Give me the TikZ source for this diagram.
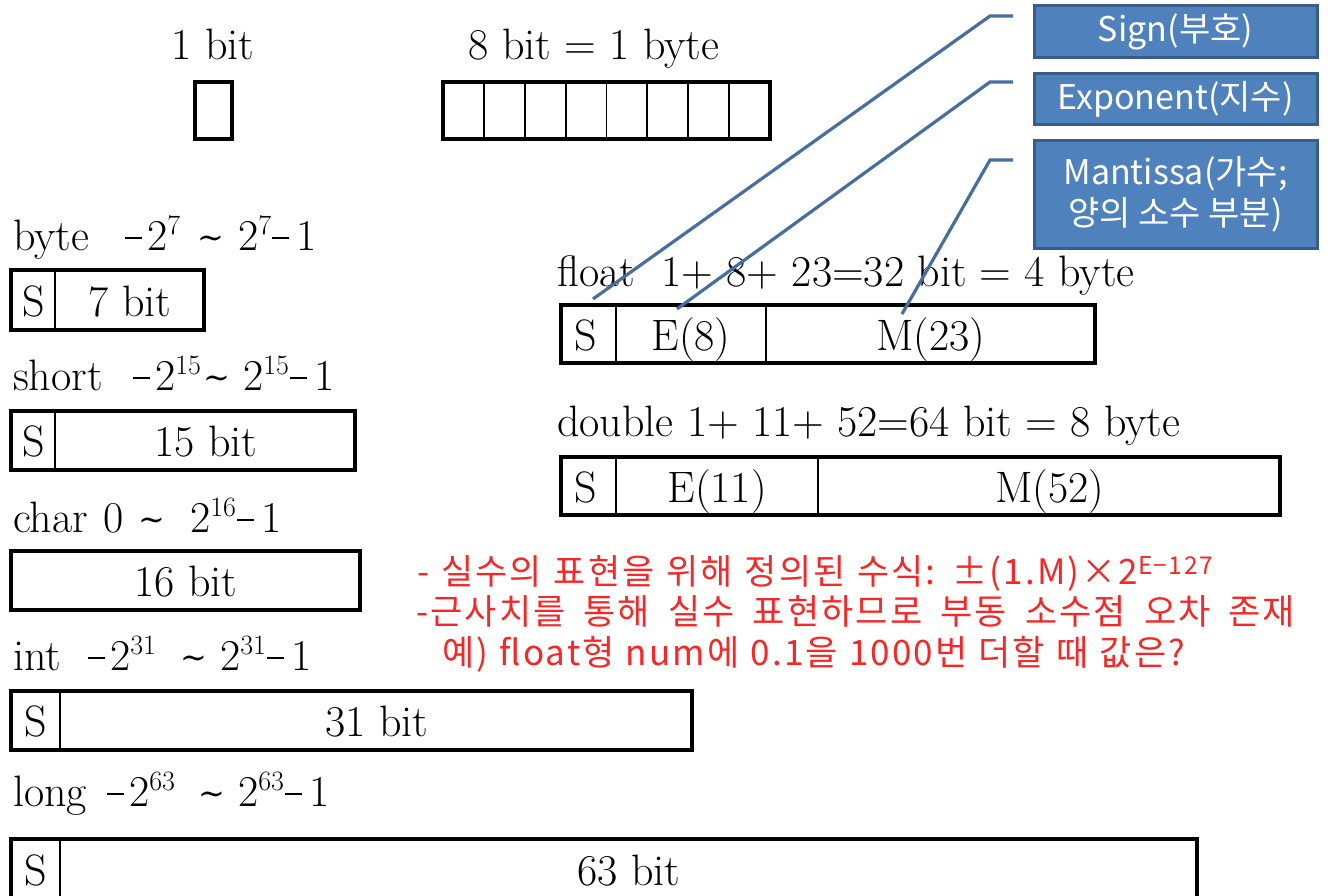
\documentclass[tikz,border=0pt]{standalone}
\usepackage{fontspec}
\newfontfamily\krfont{Noto Sans CJK KR}
\newfontfamily\krred{Noto Sans CJK KR}[LetterSpace=6]
\newfontfamily\dvserif{DejaVu Serif}
\definecolor{boxfill}{RGB}{79,129,189}
\definecolor{boxedge}{RGB}{56,93,138}
\definecolor{callcol}{RGB}{70,110,160}
\definecolor{redtxt}{RGB}{245,40,40}
\newcommand\mainsz{\fontsize{44}{50}\selectfont}
\newcommand\rngsup[1]{\raisebox{0.36em}{\fontsize{28}{30}\selectfont #1}}
\newcommand\rtil{{\dvserif\fontsize{32}{32}\selectfont\raisebox{0.05em}{∼}}}
\newcommand\rmin{\rule[11pt]{17pt}{1.7pt}}
\newcommand\rtail[1]{2\rngsup{#1}\kern1pt\rmin\kern7pt 1}
\newcommand\rlab[5]{\makebox[#1pt][l]{#2}\makebox[#3pt][l]{\rmin\kern5pt 2\rngsup{#4}}\makebox[#5pt][l]{\rtil}\rtail{#4}}
\begin{document}
\begin{tikzpicture}[x=1pt,y=-1pt,
  outerbox/.style={draw=black, line width=4pt, inner sep=0pt, outer sep=0pt},
  divline/.style={draw=black, line width=1.8pt},
  lbl/.style={anchor=base west, inner sep=0pt, font=\mainsz},
  celltxt/.style={anchor=base, inner sep=0pt, font=\mainsz},
  bluebox/.style={draw=boxedge, line width=3pt, fill=boxfill, text=white, inner sep=2pt,
     font=\krfont\fontsize{34}{41}\selectfont, align=center, minimum width=283pt},
  callout/.style={draw=callcol, line width=3.2pt},
  redline/.style={anchor=base west, inner sep=0pt, text=redtxt, font=\krred\fontsize{35}{42}\selectfont}]
\useasboundingbox (0,0) rectangle (1330,896);
\clip (0,0) rectangle (1330,896);
\fill[white] (0,0) rectangle (1330,896);

% top: 1 bit and 8 bit
\node[celltxt] (onebitlbl) at (213,60) {1 bit};
\node[outerbox, minimum width=37pt, minimum height=57pt] (onebit) at (213.5,110.5) {};
\node[celltxt] (bytelbl8) at (594,60) {8 bit = 1 byte};
\node[outerbox, minimum width=327pt, minimum height=57pt] (eightbit) at (606.5,110.5) {};
\foreach \i in {1,...,7} {
  \draw[divline] ([xshift=\i*40.875pt]eightbit.north west) -- ([xshift=\i*40.875pt]eightbit.south west);
}

% byte
\node[lbl] (bytel) at (13,250) {\rlab{112}{byte}{72}{7}{41}};
\node[outerbox, minimum width=193pt, minimum height=60pt] (byteb) at (107.5,300) {};
\draw[divline] (55,270) -- (55,330);
\node[celltxt] (bytes) at (34,316) {S};
\node[celltxt] (bytet) at (130,316) {7 bit};

% short
\node[lbl] (shortl) at (13,390) {\rlab{120}{short}{70}{15}{40}};
\node[outerbox, minimum width=344pt, minimum height=59pt] (shortb) at (183,440.5) {};
\draw[divline] (55,411) -- (55,470);
\node[celltxt] (shorts) at (34,456) {S};
\node[celltxt] (shortt) at (206,456) {15 bit};

% char
\node[lbl] (charl) at (13,532) {\makebox[90pt][l]{char}\makebox[35pt][l]{0}\makebox[52pt][l]{\rtil}\rtail{16}};
\node[outerbox, minimum width=349pt, minimum height=59pt] (charb) at (185.5,580.5) {};
\node[celltxt] (chart) at (186,596) {16 bit};

% int
\node[lbl] (intl) at (13,670) {\rlab{75}{int}{92}{31}{40}};
\node[outerbox, minimum width=681pt, minimum height=59pt] (intb) at (351.5,720.5) {};
\draw[divline] (60,691) -- (60,750);
\node[celltxt] (ints) at (36,736) {S};
\node[celltxt] (intt) at (377,736) {31 bit};

% long
\node[lbl] (longl) at (13,806) {\rlab{94}{long}{91}{63}{40}};
\node[outerbox, minimum width=1186pt, minimum height=61pt] (longb) at (604,869.5) {};
\draw[divline] (60,839) -- (60,900);
\node[celltxt] (longs) at (36,885) {S};
\node[celltxt] (longt) at (629,885) {63 bit};

% float
\node[lbl] (floatl) at (557,286) {float\hspace{0.6em}1+ 8+ 23=32 bit = 4 byte};
\node[outerbox, minimum width=534pt, minimum height=58pt] (floatb) at (828,334) {};
\draw[divline] (616,305) -- (616,363);
\draw[divline] (766,305) -- (766,363);
\node[celltxt] (floats) at (586,350) {S};
\node[celltxt] (floate) at (691,350) {E(8)};
\node[celltxt] (floatm) at (931,350) {M(23)};

% double
\node[lbl] (doublel) at (557,436) {double 1+ 11+ 52=64 bit = 8 byte};
\node[outerbox, minimum width=719pt, minimum height=58pt] (doubleb) at (920.5,486) {};
\draw[divline] (616,457) -- (616,515);
\draw[divline] (818,457) -- (818,515);
\node[celltxt] (doubles) at (586,502) {S};
\node[celltxt] (doublee) at (717,502) {E(11)};
\node[celltxt] (doublem) at (1050,502) {M(52)};

% blue callout boxes
\node[bluebox, minimum height=52pt] (sign) at (1175.5,32) {Sign(부호)};
\node[bluebox, minimum height=51pt] (expo) at (1175.5,99.5) {Exponent(지수)};
\node[bluebox, minimum height=107pt] (mant) at (1175.5,194.5) {Mantissa(가수;\\양의 소수 부분)};

\coordinate (sa) at (1013,16);
\coordinate (sb) at (990,16);
\coordinate (sc) at (593,299);
\coordinate (ea) at (1013,82);
\coordinate (eb) at (990,82);
\coordinate (ec) at (677,309);
\coordinate (ma) at (1013,160);
\coordinate (mb) at (990,160);
\coordinate (mc) at (902,314);
\draw[callout] (sa) -- (sb) -- (sc);
\draw[callout] (ea) -- (eb) -- (ec);
\draw[callout] (ma) -- (mb) -- (mc);

% red notes
\node[redline] (note1) at (417,584) {\makebox[796pt][s]{- 실수의 표현을 위해 정의된 수식: ±(1.M)×2\textsuperscript{E−127}}};
\node[redline] (note2) at (416,624) {\makebox[879pt][s]{-근사치를 통해 실수 표현하므로 부동 소수점 오차 존재}};
\node[redline] (note3) at (442,665) {\makebox[743pt][s]{예) float형 num에 0.1을 1000번 더할 때 값은?}};
\end{tikzpicture}
\end{document}
